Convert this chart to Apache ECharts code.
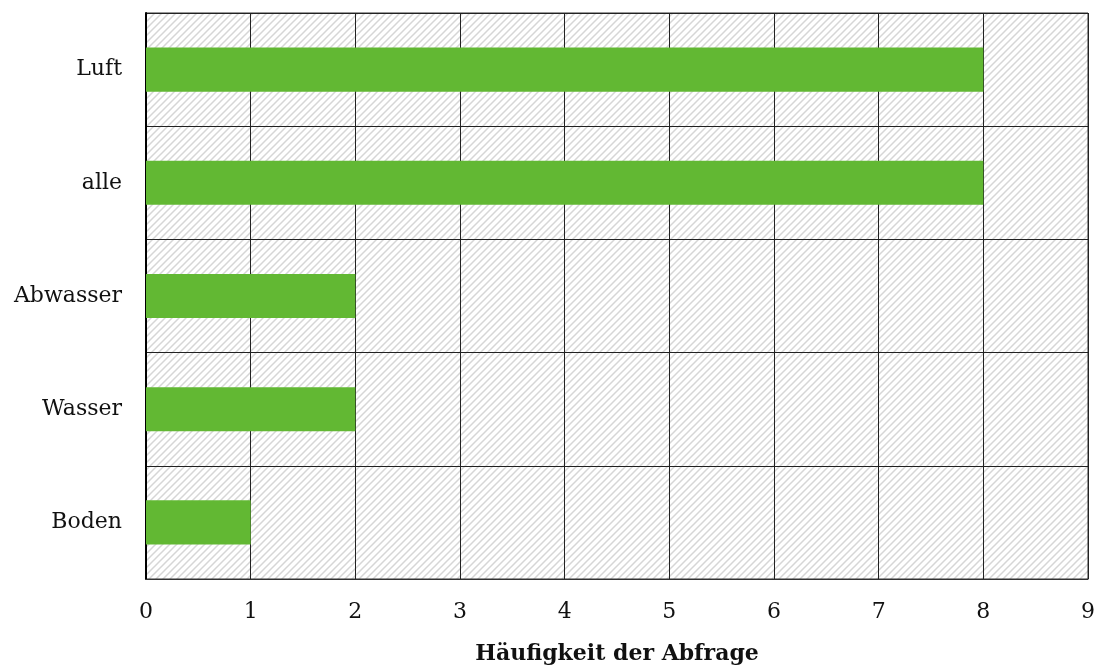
<!DOCTYPE html>
<html><head><meta charset="utf-8">
<script src="https://cdn.jsdelivr.net/npm/echarts@6/dist/echarts.min.js"></script>
<style>html,body{margin:0;padding:0;background:#fff}#c{width:1103px;height:666px}</style>
</head><body><div id="c"></div>
<script>
var categories = ['Boden', 'Wasser', 'Abwasser', 'alle', 'Luft'];
var values = [1, 2, 2, 8, 8];
var xTicks = [0, 1, 2, 3, 4, 5, 6, 7, 8, 9];
var xTitle = 'Häufigkeit der Abfrage';

var S = 7;
var pc = document.createElement('canvas');
pc.width = S; pc.height = S;
var g = pc.getContext('2d');
g.fillStyle = '#ffffff'; g.fillRect(0, 0, S, S);
g.strokeStyle = '#d6d6d6'; g.lineWidth = 1.5;
g.beginPath();
g.moveTo(-1, S + 1); g.lineTo(S + 1, -1);
g.moveTo(-1, 1); g.lineTo(1, -1);
g.moveTo(S - 1, S + 1); g.lineTo(S + 1, S - 1);
g.stroke();

var F = 'DejaVu Serif';
var chart = echarts.init(document.getElementById('c'));
chart.setOption({
  animation: false,
  grid: {left: 146, right: 15, top: 13, bottom: 87, show: true, outerBoundsMode: 'none', containLabel: false,
         backgroundColor: {image: pc, repeat: 'repeat'}, borderColor: '#333', borderWidth: 1},
  xAxis: {
    type: 'value', min: xTicks[0], max: xTicks[xTicks.length - 1], interval: 1,
    name: xTitle, nameLocation: 'middle', nameGap: 64,
    nameTextStyle: {fontFamily: F, fontSize: 22, fontWeight: 'bold', color: '#111'},
    axisLine: {show: true, lineStyle: {color: '#333', width: 1}},
    axisTick: {show: false},
    axisLabel: {fontFamily: F, fontSize: 22, color: '#111', margin: 22},
    splitLine: {show: true, lineStyle: {color: '#222', width: 1}}
  },
  yAxis: {
    type: 'category', data: categories,
    axisLine: {show: true, lineStyle: {color: '#000', width: 2}},
    axisTick: {show: false},
    axisLabel: {fontFamily: F, fontSize: 22, color: '#111', margin: 24},
    splitLine: {show: true, interval: 0, lineStyle: {color: '#222', width: 1}}
  },
  series: [{
    type: 'bar', data: values, barWidth: '39%',
    itemStyle: {color: '#62b833'}
  }]
});
</script></body></html>
